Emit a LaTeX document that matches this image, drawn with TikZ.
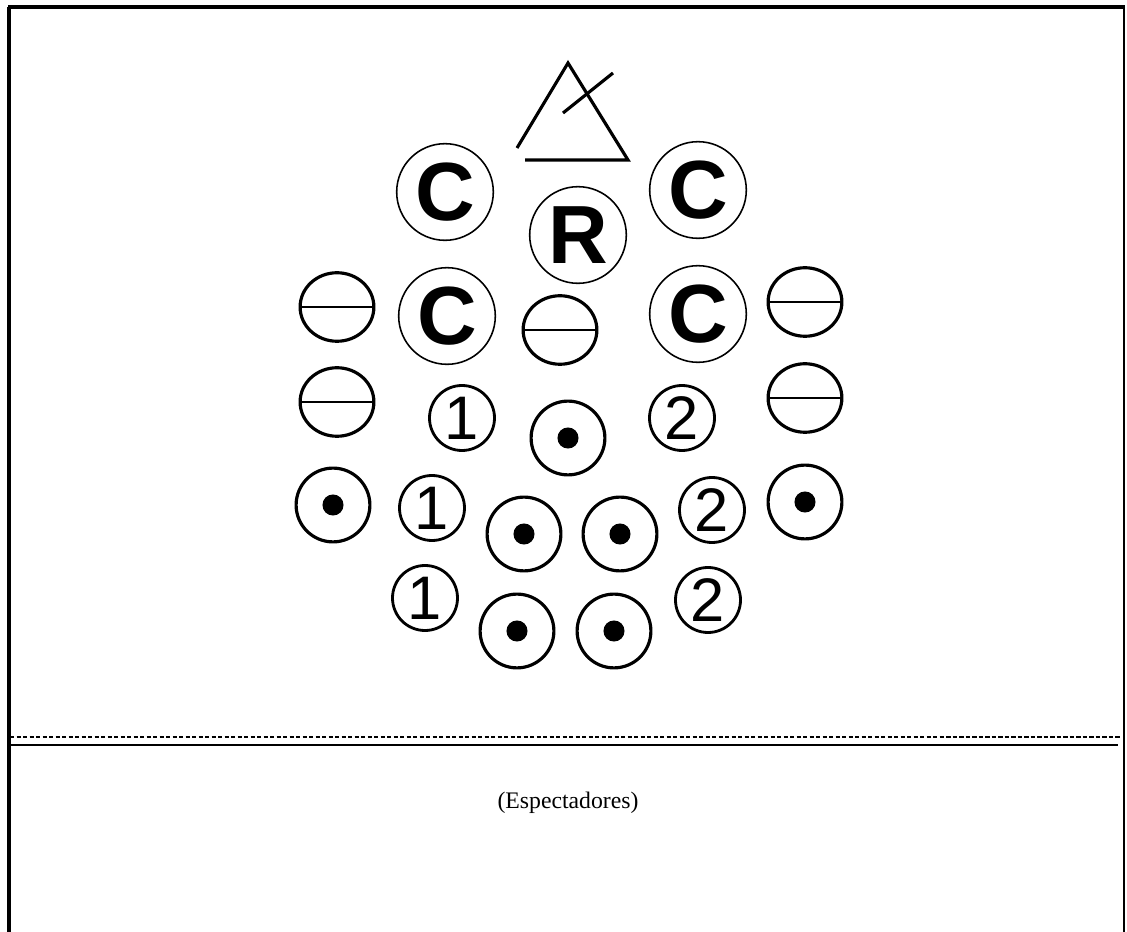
\documentclass[tikz,border=0pt]{standalone}
\usepackage{fontspec}
\setmainfont{Liberation Serif}
\newfontfamily\symfont{Liberation Sans}
\usepackage{tikz}
\usetikzlibrary{shapes.geometric}

\begin{document}
\begin{tikzpicture}[x=0.02cm, y=-0.02cm,
	  letter/.style={draw, circle, line width=0.9pt, minimum size=55pt, inner sep=0pt, font=\symfont\bfseries\fontsize{47}{47}\selectfont},
	  number/.style={draw, circle, line width=1.6pt, minimum size=37pt, inner sep=0pt, font=\symfont\fontsize{35}{35}\selectfont},
	  theta/.style={draw, ellipse, line width=1.8pt, minimum width=42pt, minimum height=39pt, inner sep=0pt, path picture={\draw[line width=1.6pt] (path picture bounding box.west) -- (path picture bounding box.east);}},
	  dotc/.style={draw, circle, line width=1.8pt, minimum size=42pt, inner sep=0pt, path picture={\fill (path picture bounding box.center) circle (6pt);}}]
	  \useasboundingbox (0,0) rectangle (1127,932);
	  \draw[line width=1.8pt] (8,7) -- (1125,7);
	  \draw[line width=1.8pt] (9,7) -- (9,932);
	  \draw[line width=1.2pt] (1124,7) -- (1124,932);
	  \draw[line width=1.8pt, line join=miter] (517,148) -- (568,63) -- (628,160) -- (525,160);
	  \draw[line width=1.8pt] (563,113) -- (613,73);
	  \node[letter] (cA) at (445,192) {C};
	  \node[letter] (cB) at (698,190) {C};
	  \node[letter] (rr) at (578,235) {R};
	  \node[letter] (cC) at (447,316) {C};
	  \node[letter] (cD) at (698,314) {C};
	  \node[theta] (tA) at (337,307) {};
	  \node[theta] (tB) at (337,402) {};
	  \node[theta] (tM) at (560,330) {};
	  \node[theta] (tC) at (805,302) {};
	  \node[theta] (tD) at (805,398) {};
	  \node[number] (oneA) at (462,418) {1};
	  \node[number] (oneB) at (432,508) {1};
	  \node[number] (oneC) at (425,598) {1};
	  \node[number] (twoA) at (682,418) {2};
	  \node[number] (twoB) at (712,510) {2};
	  \node[number] (twoC) at (708,600) {2};
	  \node[dotc] (dM) at (568,438) {};
	  \node[dotc] (dL) at (333,505) {};
	  \node[dotc] (dR) at (805,502) {};
	  \node[dotc] (dA) at (524,534) {};
	  \node[dotc] (dB) at (620,534) {};
	  \node[dotc] (dC) at (517,631) {};
	  \node[dotc] (dD) at (614,631) {};
	  \draw[dash pattern=on 2.5pt off 1.2pt, line width=0.6pt] (10,737) -- (1120,737);
	  \draw[line width=1.6pt] (8,745) -- (1118,745);
	  \node[font=\fontsize{13.5}{16}\selectfont] (spec) at (568,803) {(Espectadores)};
	\end{tikzpicture}
\end{document}
